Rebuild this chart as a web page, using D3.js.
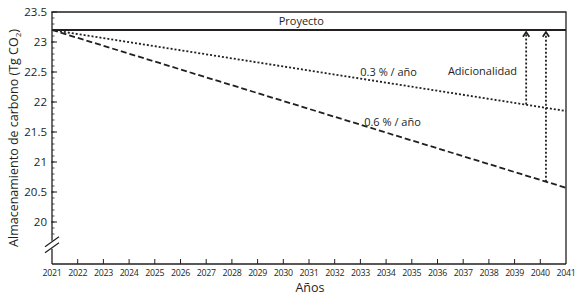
<!DOCTYPE html>
<html>
<head>
<meta charset="utf-8">
<script src="https://cdn.jsdelivr.net/npm/d3@7"></script>
<style>
  body { margin: 0; background: #fff; }
  text { font-family: "Open Sans", "DejaVu Sans", sans-serif; fill: #231f20; }
</style>
</head>
<body>
<svg id="chart" width="584" height="300"></svg>
<script>
// data
const years = d3.range(2021, 2042);
const yTicks = [20, 20.5, 21, 21.5, 22, 22.5, 23, 23.5];
const proyecto = [[2021, 23.2], [2041, 23.2]];
const baseline03 = [[2021, 23.2], [2041, 21.85]];
const baseline06 = [[2021, 23.2], [2041, 20.57]];
// additionality arrows: year, from (baseline value) to project value
const arrows = [
  { year: 2039.45, from: 21.96, to: 23.2 },
  { year: 2040.22, from: 20.67, to: 23.2 }
];
const labels = [
  { text: "Proyecto", x: 2030.7, y: 23.35 },
  { text: "0.3 % / año", x: 2034.1, y: 22.5 },
  { text: "0.6 % / año", x: 2034.25, y: 21.67 },
  { text: "Adicionalidad", x: 2037.75, y: 22.52 }
];

const svg = d3.select("#chart");
const margin = { left: 52, right: 18, top: 12, bottom: 36 };
const W = 584, H = 300;

const x = d3.scaleLinear().domain([2021, 2041]).range([margin.left, W - margin.right]);
const y = d3.scaleLinear().domain([19.3, 23.5]).range([H - margin.bottom, margin.top]);

// frame (top and right)
svg.append("path")
  .attr("d", `M${x(2021)},${y(23.5)}H${x(2041)}V${y(19.3)}`)
  .attr("fill", "none").attr("stroke", "#231f20").attr("stroke-width", 1.3);

// y axis
const yAxis = svg.append("g").attr("transform", `translate(${x(2021)},0)`);
yAxis.append("line").attr("y1", y(23.5)).attr("y2", y(19.3))
  .attr("stroke", "#231f20").attr("stroke-width", 1.3);
const minor = d3.range(19.8, 23.45, 0.1).map(v => +v.toFixed(1));
yAxis.selectAll(".minor").data(minor).join("line")
  .attr("x1", 0).attr("x2", 2.5)
  .attr("y1", d => y(d)).attr("y2", d => y(d))
  .attr("stroke", "#231f20").attr("stroke-width", 0.8);
yAxis.selectAll(".major").data(yTicks).join("line")
  .attr("x1", -1).attr("x2", 5)
  .attr("y1", d => y(d)).attr("y2", d => y(d))
  .attr("stroke", "#231f20").attr("stroke-width", 1);
yAxis.selectAll(".ylab").data(yTicks).join("text")
  .attr("x", -5).attr("y", d => y(d)).attr("dy", "0.35em")
  .attr("text-anchor", "end").attr("font-size", 11.5)
  .text(d => d);

// axis break
const by = y(19.62);
svg.append("rect").attr("x", x(2021) - 3).attr("y", by - 4).attr("width", 6).attr("height", 8).attr("fill", "#fff");
[-3, 3].forEach(o => {
  svg.append("line")
    .attr("x1", x(2021) - 7).attr("y1", by + o + 5)
    .attr("x2", x(2021) + 7).attr("y2", by + o - 5)
    .attr("stroke", "#231f20").attr("stroke-width", 1.2);
});

// x axis
const xAxis = svg.append("g").attr("transform", `translate(0,${y(19.3)})`);
xAxis.append("line").attr("x1", x(2021)).attr("x2", x(2041))
  .attr("stroke", "#231f20").attr("stroke-width", 1.3);
xAxis.selectAll(".xt").data(years.slice(1, -1)).join("line")
  .attr("x1", d => x(d)).attr("x2", d => x(d))
  .attr("y1", 0).attr("y2", -5)
  .attr("stroke", "#231f20").attr("stroke-width", 1);
xAxis.selectAll(".xl").data(years).join("text")
  .attr("x", d => x(d)).attr("y", 12)
  .attr("text-anchor", "middle").attr("font-size", 8.8)
  .attr("letter-spacing", -0.3)
  .text(d => d);

// axis titles
svg.append("text")
  .attr("x", 310).attr("y", 292)
  .attr("text-anchor", "middle").attr("font-size", 12.5)
  .text("Años");
const yt = svg.append("text")
  .attr("transform", `translate(18,${(y(19.3) + y(23.5)) / 2}) rotate(-90)`)
  .attr("text-anchor", "middle").attr("font-size", 12.5);
yt.append("tspan").text("Almacenamiento de carbono (Tg CO");
yt.append("tspan").attr("font-size", 8).attr("dy", 3).text("2");
yt.append("tspan").attr("dy", -3).text(")");

// lines
const line = d3.line().x(d => x(d[0])).y(d => y(d[1]));
svg.append("path").datum(proyecto).attr("d", line)
  .attr("fill", "none").attr("stroke", "#231f20").attr("stroke-width", 2);
svg.append("path").datum(baseline03).attr("d", line)
  .attr("fill", "none").attr("stroke", "#231f20").attr("stroke-width", 1.8)
  .attr("stroke-dasharray", "2,2");
svg.append("path").datum(baseline06).attr("d", line)
  .attr("fill", "none").attr("stroke", "#231f20").attr("stroke-width", 1.8)
  .attr("stroke-dasharray", "6,3");

// arrows
svg.append("defs").append("marker")
  .attr("id", "head").attr("viewBox", "0 0 10 10")
  .attr("refX", 8).attr("refY", 5).attr("markerWidth", 8).attr("markerHeight", 8)
  .attr("markerUnits", "userSpaceOnUse").attr("orient", "auto")
  .append("path").attr("d", "M2,1L8,5L2,9").attr("fill", "none")
  .attr("stroke", "#231f20").attr("stroke-width", 2.2);
svg.selectAll(".arrow").data(arrows).join("line")
  .attr("x1", d => x(d.year)).attr("x2", d => x(d.year))
  .attr("y1", d => y(d.from)).attr("y2", d => y(d.to) + 2)
  .attr("stroke", "#231f20").attr("stroke-width", 1.8)
  .attr("stroke-dasharray", "2,2")
  .attr("marker-end", "url(#head)");

// labels
svg.selectAll(".lab").data(labels).join("text")
  .attr("x", d => x(d.x)).attr("y", d => y(d.y)).attr("dy", "0.35em")
  .attr("text-anchor", "middle").attr("font-size", 11)
  .text(d => d.text);
</script>
</body>
</html>
